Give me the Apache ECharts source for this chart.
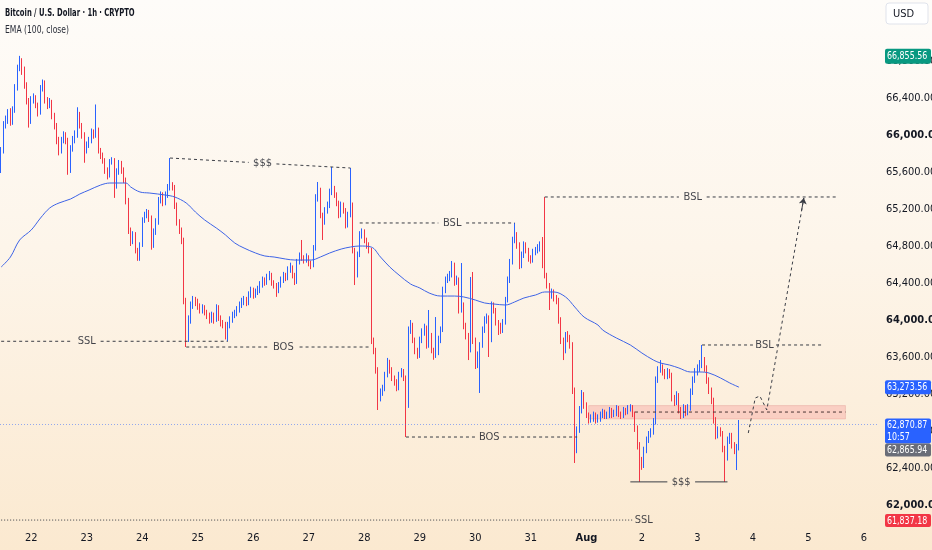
<!DOCTYPE html>
<html><head><meta charset="utf-8">
<script src="https://cdn.jsdelivr.net/npm/echarts/dist/echarts.min.js"></script>
<style>
html,body{margin:0;padding:0;width:932px;height:550px;overflow:hidden;background:linear-gradient(to bottom,#fefcf9 0%,#fdf5ea 45%,#fbe9d0 100%);}
#chart{width:932px;height:550px;}
</style></head><body><div id="chart"></div>
<script>
// ---- data (BTCUSD 1h) ----
const openPrices = [
65697,65837,66108,66162,66237,66140,66270,66508,66724,66789,
66702,66540,66378,66162,66378,66400,66324,66248,66508,66573,
66378,66324,66356,66216,66108,65946,65837,65946,66000,65946,
65621,65859,65946,66000,66216,66108,66000,65837,65892,65946,
66032,66000,66054,65837,65783,65729,65621,65567,65708,65729,
65459,65600,65697,65621,65513,65297,64973,64865,64919,64756,
64670,64811,65081,65135,65167,65102,64811,64951,65059,65297,
65351,65265,65351,65427,65459,65438,65243,65059,64973,64865,
64216,63892,64000,64162,64216,64194,64151,64108,64130,64086,
64054,64000,64054,64000,64130,64021,63967,63946,63838,63946,
64000,64054,64075,64108,64162,64194,64216,64194,64270,64324,
64270,64302,64324,64378,64432,64411,64465,64486,64400,64378,
64324,64378,64432,64486,64454,64540,64562,64486,64411,64627,
64692,64670,64648,64681,64616,64594,64778,65319,65405,65135,
65059,65189,65243,65383,65427,65351,65265,65135,65243,65189,
65027,65135,65243,64756,64486,64702,64919,64951,64865,64811,
64756,63784,63675,63459,63157,63221,63265,63405,63546,63459,
63373,63330,63265,63405,63438,63373,63081,63892,63946,63784,
63675,63621,63784,63870,63913,63730,63838,63675,63621,63730,
63784,63892,64324,64432,64454,64486,64594,64411,64432,64108,
64162,63946,63838,63675,64378,63784,63513,63621,63730,63892,
64000,64021,63784,64162,64108,63978,63946,63892,63978,64216,
64432,64627,64865,64919,64811,64594,64702,64811,64756,64670,
64648,64735,64756,64778,64811,64594,64486,64378,64270,64302,
64238,64216,64000,63784,63675,63838,63805,63730,63243,62703,
62811,63027,63189,63081,62973,62919,62940,62973,62919,62940,
62973,63005,62962,62973,63027,62973,62994,63049,62984,62962,
63027,63005,63049,63059,62984,62832,62649,62486,62432,62594,
62703,62767,62789,62897,63351,63459,63492,63438,63394,63438,
63405,63157,63113,63189,63027,62973,63049,63005,63049,63221,
63351,63438,63481,63513,63567,63481,63351,63243,63135,62919,
62757,62811,62778,62616,62508,62703,62746,62649,62594,62616];
const closePrices = [
65837,66108,66162,66237,66140,66270,66508,66724,66789,66702,
66540,66378,66162,66378,66400,66324,66248,66508,66573,66378,
66324,66356,66216,66108,65946,65837,65946,66000,65946,65621,
65859,65946,66000,66216,66108,66000,65837,65892,65946,66032,
66000,66054,65837,65783,65729,65621,65567,65708,65729,65459,
65600,65697,65621,65513,65297,64973,64865,64919,64756,64670,
64811,65081,65135,65167,65102,64811,64951,65059,65297,65351,
65265,65351,65427,65459,65438,65243,65059,64973,64865,64216,
63892,64000,64162,64216,64194,64151,64108,64130,64086,64054,
64000,64054,64000,64130,64021,63967,63946,63838,63946,64000,
64054,64075,64108,64162,64194,64216,64194,64270,64324,64270,
64302,64324,64378,64432,64411,64465,64486,64400,64378,64324,
64378,64432,64486,64454,64540,64562,64486,64411,64627,64692,
64670,64648,64681,64616,64594,64778,65319,65405,65135,65059,
65189,65243,65383,65427,65351,65265,65135,65243,65189,65027,
65135,65243,64756,64486,64702,64919,64951,64865,64811,64756,
63784,63675,63459,63157,63221,63265,63405,63546,63459,63373,
63330,63265,63405,63438,63373,63081,63892,63946,63784,63675,
63621,63784,63870,63913,63730,63838,63675,63621,63730,63784,
63892,64324,64432,64454,64486,64594,64411,64432,64108,64162,
63946,63838,63675,64378,63784,63513,63621,63730,63892,64000,
64021,63784,64162,64108,63978,63946,63892,63978,64216,64432,
64627,64865,64919,64811,64594,64702,64811,64756,64670,64648,
64735,64756,64778,64811,64594,64486,64378,64270,64302,64238,
64216,64000,63784,63675,63838,63805,63730,63243,62703,62811,
63027,63189,63081,62973,62919,62940,62973,62919,62940,62973,
63005,62962,62973,63027,62973,62994,63049,62984,62962,63027,
63005,63049,63059,62984,62832,62649,62486,62432,62594,62703,
62767,62789,62897,63351,63459,63492,63438,63394,63438,63405,
63157,63113,63189,63027,62973,63049,63005,63049,63221,63351,
63438,63481,63513,63567,63481,63351,63243,63135,62919,62757,
62811,62778,62616,62508,62703,62746,62649,62594,62616,62870.87];
const highPrices = [
65870,66150,66210,66280,66290,66310,66550,66760,66855.56,66830,
66740,66570,66400,66420,66450,66430,66350,66540,66600,66590,
66410,66400,66380,66240,66130,65980,65980,66040,66030,65970,
65890,65990,66050,66300,66250,66130,66030,65930,65980,66070,
66060,66330,66080,65860,65810,65750,65650,65740,65760,65750,
65640,65730,65720,65650,65540,65320,65000,64960,64950,64780,
64840,65110,65170,65200,65190,65130,64990,65100,65330,65390,
65380,65390,65470,65751,65490,65460,65270,65090,65000,64890,
64240,64050,64200,64260,64250,64230,64180,64170,64160,64110,
64080,64090,64080,64170,64160,64050,64000,63980,63980,64040,
64090,64110,64150,64200,64240,64260,64250,64310,64360,64350,
64340,64370,64420,64470,64460,64500,64530,64510,64430,64400,
64410,64470,64520,64510,64580,64620,64590,64510,64660,64730,
64865,64700,64720,64700,64640,64810,65360,65492,65430,65160,
65220,65280,65420,65654,65450,65380,65290,65280,65270,65210,
65170,65643,65270,64780,64740,64960,64990,64980,64890,64840,
64780,63810,63700,63490,63260,63300,63440,63590,63570,63490,
63400,63360,63440,63480,63470,63400,63930,64000,63970,63810,
63700,63820,63910,63960,63940,64108,63860,63700,64032,63830,
63930,64360,64470,64500,64530,64638,64620,64480,64460,64616,
64190,63970,63860,64465,64519,63810,63660,63760,63930,64040,
64070,64050,64200,64190,64130,64000,63970,64010,64250,64470,
64660,64900,65049,64950,64840,64740,64850,64840,64780,64700,
64770,64790,64820,64850,64897,65330,64510,64400,64340,64330,
64270,64240,64030,63810,63870,63880,63840,63760,63270,62850,
63070,63243,63220,63110,63000,62980,63010,63000,62980,63010,
63040,63030,63010,63060,63050,63030,63080,63070,63010,63060,
63050,63080,63090,63080,63010,62860,62680,62520,62630,62740,
62800,62830,62940,63390,63500,63567,63520,63470,63480,63470,
63430,63190,63230,63210,63060,63090,63080,63090,63260,63390,
63480,63520,63567,63730,63600,63510,63380,63270,63160,62950,
62850,62840,62800,62640,62740,62780,62780,62680,62660,62919];
const lowPrices = [
65589,65800,66070,66120,66100,66110,66240,66480,66690,66650,
66500,66330,66080,66120,66340,66290,66200,66220,66470,66340,
66280,66290,66170,66060,65900,65780,65800,65910,65900,65570,
65590,65820,65910,65970,66070,65960,65700,65800,65860,65910,
65960,65970,65800,65740,65690,65580,65520,65540,65680,65320,
65420,65570,65580,65480,65250,64930,64800,64820,64720,64640,
64640,64790,65050,65100,65060,64760,64780,64920,65030,65260,
65230,65240,65320,65400,65400,65200,65020,64930,64820,64170,
63708,63762,63960,64120,64150,64110,64070,64070,64050,64010,
63960,63970,63960,63980,63990,63930,63910,63790,63770,63910,
63970,64020,64040,64080,64130,64160,64150,64160,64240,64230,
64240,64270,64290,64350,64370,64380,64430,64370,64340,64250,
64290,64350,64400,64420,64430,64510,64450,64378,64390,64600,
64640,64610,64620,64580,64550,64570,64750,65280,65100,64865,
65030,65150,65210,65350,65320,65230,65100,65110,65150,64990,
65000,65110,64720,64378,64460,64680,64880,64830,64770,64720,
63740,63630,63420,63027,63120,63180,63230,63380,63420,63340,
63290,63230,63240,63380,63340,62735,63050,63850,63750,63630,
63580,63590,63750,63830,63690,63700,63640,63570,63590,63620,
63750,63870,64290,64400,64420,64460,64370,64380,64070,64080,
63900,63790,63567,63650,63740,63470,63480,63211,63700,63860,
63960,63600,63760,64070,63940,63838,63850,63860,63950,64190,
64400,64600,64830,64770,64550,64560,64670,64720,64630,64610,
64620,64700,64720,64740,64560,64450,64340,64108,64230,64200,
64170,63960,63740,63567,63640,63760,63690,63200,62454,62560,
62780,62990,63040,62940,62880,62890,62900,62880,62890,62900,
62940,62930,62930,62940,62940,62950,62960,62950,62930,62940,
62970,62980,63010,62950,62790,62600,62250,62380,62400,62560,
62670,62730,62760,62870,63320,63430,63400,63360,63360,63370,
63120,63070,63080,62990,62930,62940,62960,62970,63020,63190,
63320,63400,63440,63480,63440,63310,63200,63090,62880,62710,
62720,62740,62570,62250,62480,62660,62610,62550,62378,62590];

// EMA(100, close): bar index -> value
const emaBar = [0,4,8,13,17,21,25,30,34,38,43,47,51,54,56,60,64,71,75,80,84,88,93,97,101,105,110,114,118,123,127,134,138,142,147,151,155,160,164,168,172,177,181,185,190,196,200,205,209,213,218,222,226,231,235,239,244,248,252,258,260,266,272,277,282,285,289,293,298,302,306,311,315,319];
const emaValue = [64573,64681,64865,64973,65102,65211,65265,65308,65362,65405,65459,65481,65481,65481,65438,65384,65373,65351,65330,65265,65167,65081,64995,64919,64832,64778,64724,64692,64681,64659,64648,64648,64681,64724,64767,64789,64800,64789,64681,64573,64486,64389,64346,64292,64259,64259,64249,64216,64184,64173,64162,64195,64238,64270,64303,64303,64249,64140,64032,63946,63892,63805,63730,63643,63567,63535,63513,63481,63438,63438,63427,63373,63319,63273.56];

// time axis: hourly slots from Jul 21 11:00 to past Aug 6
const firstBarUTC = Date.UTC(2024, 6, 21, 11);
const slotCount = 380;
const monthNames = ['Jan','Feb','Mar','Apr','May','Jun','Jul','Aug','Sep','Oct','Nov','Dec'];
const categories = [];
for (let i = 0; i < slotCount; i++) {
  const d = new Date(firstBarUTC + i * 3600000);
  categories.push(monthNames[d.getUTCMonth()] + ' ' + d.getUTCDate() + ' ' + String(d.getUTCHours()).padStart(2, '0') + ':00');
}

// drawings: labels, bar index start/end, price start/end, label gap (bar indexes)
const drawLabels   = ['SSL', 'BOS', '$$$', 'BSL', 'BSL', 'BOS', '$$$', 'BSL'];
const drawStartBar = [0, 80, 73, 155, 235, 175, 272, 303];
const drawEndBar   = [98, 160, 151, 222, 362, 249, 314, 355];
const drawStartPx  = [63770, 63708, 65751, 65049, 65330, 62735, 62250, 63730];
const drawEndPx    = [63770, 63708, 65643, 65049, 65330, 62735, 62250, 63730];
const drawGapFrom  = [31, 115, 107, 189, 293, 205, 288, 325];
const drawGapTo    = [43, 129, 119, 201, 305, 217, 300, 335];
const drawSolid    = [false, false, false, false, false, false, true, false];
const lowerSSL = { label: 'SSL', fromBar: 0, toBar: 273, price: 61837.18 };
const zoneBars = [254, 365];
const zonePrices = [62930, 63075];
const zoneMid = 63005;
const zoneMidFrom = 274;
const projectionBars = [323, 326, 328, 331, 347];
const projectionPrices = [62778, 63157, 63178, 63027, 65319];

const lastPrice = 62870.87;
const lastCountdown = '10:57';
const highBadge = 66855.56;
const emaBadge = 63273.56;
const greyBadge = 62865.94;

// ---- chart ----
const FONT = "'DejaVu Sans Condensed','Liberation Sans Narrow','Roboto',sans-serif";
const INK = '#131722';
const DRAW = '#3a3d45';
const chart = echarts.init(document.getElementById('chart'), null, { renderer: 'canvas' });

const series = [];
series.push({
  type: 'candlestick',
  name: 'BTCUSD',
  data: openPrices.map((o, i) => [o, closePrices[i], lowPrices[i], highPrices[i]]),
  barWidth: '55%',
  itemStyle: { color: '#2962ff', color0: '#f23645', borderColor: '#2962ff', borderColor0: '#f23645', borderWidth: 1 },
  z: 3,
  markLine: {
    silent: true, symbol: 'none', animation: false,
    label: { show: false },
    lineStyle: { type: [1, 2], color: 'rgba(41,98,255,0.5)', width: 1 },
    data: [{ yAxis: lastPrice }]
  },
  markArea: {
    silent: true,
    itemStyle: { color: 'rgba(242,54,69,0.17)', borderColor: 'rgba(200,80,80,0.18)', borderWidth: 1 },
    data: [[{ coord: [zoneBars[0], zonePrices[1]] }, { coord: [zoneBars[1], zonePrices[0]] }]]
  }
});
series.push({
  type: 'line', name: 'EMA',
  data: emaBar.map((b, i) => [b, emaValue[i]]),
  smooth: 0.35, showSymbol: false, symbol: 'none',
  lineStyle: { color: '#3d63e6', width: 1 }, z: 4
});

function seg(points, style) {
  return { type: 'line', data: points, symbol: 'none', showSymbol: false, silent: true, lineStyle: style, z: 5, animation: false };
}
const labelPts = [];
drawLabels.forEach((txt, k) => {
  const a = drawStartBar[k], b = drawEndBar[k], pa = drawStartPx[k], pb = drawEndPx[k];
  const yAt = x => pa + (pb - pa) * (x - a) / (b - a);
  const style = { color: DRAW, width: 1, type: drawSolid[k] ? 'solid' : [3, 3] };
  series.push(seg([[a, pa], [drawGapFrom[k], yAt(drawGapFrom[k])]], style));
  series.push(seg([[drawGapTo[k], yAt(drawGapTo[k])], [b, pb]], style));
  const mid = Math.round((drawGapFrom[k] + drawGapTo[k]) / 2);
  labelPts.push({ value: [mid, yAt(mid)], label: { formatter: txt } });
});
// lower SSL (dotted) with label at its right end
series.push(seg([[lowerSSL.fromBar, lowerSSL.price], [lowerSSL.toBar, lowerSSL.price]], { color: DRAW, width: 1, type: [1, 2] }));
// zone middle dashed
series.push(seg([[zoneMidFrom, zoneMid], [zoneBars[1], zoneMid]], { color: '#4a3434', width: 1, type: [3, 3] }));
// projection path
series.push({
  type: 'line', data: projectionBars.map((b, i) => [b, projectionPrices[i]]),
  symbol: 'none', smooth: false, silent: true, z: 5,
  lineStyle: { color: DRAW, width: 1, type: [3, 3] },
  markLine: {
    silent: true, symbol: ['none', 'arrow'], symbolSize: 6, label: { show: false },
    lineStyle: { color: DRAW, width: 1, type: 'solid' },
    data: [[{ coord: [346, 65180] }, { coord: [347, projectionPrices[4]] }]]
  }
});
series.push({
  type: 'scatter', symbolSize: 0.1, silent: true, z: 6,
  itemStyle: { color: 'transparent' },
  label: { show: true, position: 'inside', color: INK, fontFamily: FONT, fontSize: 11 },
  data: labelPts.concat([{ value: [lowerSSL.toBar, lowerSSL.price], label: { formatter: lowerSSL.label, position: 'right', distance: 2 } }])
});

const option = {
  animation: false,
  backgroundColor: 'transparent',
  grid: { left: 0, right: 53, top: -13, bottom: 8, containLabel: false, outerBoundsMode: 'none' },
  xAxis: {
    type: 'category', data: categories, boundaryGap: true,
    axisLine: { show: false }, axisTick: { show: false }, splitLine: { show: false },
    axisLabel: {
      margin: -9, color: INK, fontFamily: FONT, fontSize: 11,
      interval: (idx, val) => val.endsWith(' 00:00'),
      formatter: val => { const p = val.split(' '); return p[1] === '1' ? '{m|' + p[0] + '}' : p[1]; },
      rich: { m: { fontWeight: 'bold', color: INK, fontFamily: FONT, fontSize: 11 } }
    }
  },
  yAxis: {
    type: 'value', position: 'right', min: 61600, max: 67600, interval: 400, scale: true,
    axisLine: { show: false }, axisTick: { show: false }, splitLine: { show: false },
    axisLabel: {
      margin: 7, color: INK, fontFamily: FONT, fontSize: 11, align: 'left',
      formatter: v => {
        if (v < 61700 || v > 67100) return '';
        const s = v.toLocaleString('en-US', { minimumFractionDigits: 2, maximumFractionDigits: 2 });
        return v % 2000 === 0 ? '{b|' + s + '}' : s;
      },
      rich: { b: { fontWeight: 'bold', color: INK, fontFamily: FONT, fontSize: 11 } }
    }
  },
  series: series
};
chart.setOption(option);

// ---- price badges on the scale, placed through the axis ----
const yPx = v => chart.convertToPixel({ yAxisIndex: 0 }, v);
const BX = 885, BW = 46;
const fmt = v => v.toLocaleString('en-US', { minimumFractionDigits: 2, maximumFractionDigits: 2 });
const g = [];
function badge(top, h, bg, lines) {
  g.push({ type: 'rect', shape: { x: BX, y: top, width: BW, height: h, r: 2 }, style: { fill: bg }, z: 100 });
  lines.forEach((ln, i) => g.push({
    type: 'text', x: BX + 2, y: top + 7 + i * 12, scaleX: 0.8, z: 101,
    style: { text: ln, fill: '#ffffff', font: '11px ' + FONT, verticalAlign: 'middle' }
  }));
}
badge(yPx(highBadge) - 7, 15, '#089981', [fmt(highBadge)]);
badge(yPx(emaBadge) - 7, 14, '#2962ff', [fmt(emaBadge)]);
const lp = yPx(lastPrice);
badge(lp - 6, 25, '#2962ff', [fmt(lastPrice), lastCountdown]);
badge(lp + 19, 13, '#6a6d78', [fmt(greyBadge)]);
badge(yPx(lowerSSL.price) - 6, 13, '#f23645', [fmt(lowerSSL.price)]);
// currency box
g.push({ type: 'rect', shape: { x: 886, y: 3, width: 42, height: 21, r: 3 }, style: { fill: '#ffffff', stroke: '#e0e3eb', lineWidth: 1 }, z: 100 });
g.push({ type: 'text', x: 893, y: 14, z: 101, style: { text: 'USD', fill: INK, font: '11px ' + FONT, verticalAlign: 'middle' } });
// legend texts
g.push({ type: 'text', x: 5, y: 13, scaleX: 0.69, z: 101, style: { text: 'Bitcoin / U.S. Dollar · 1h · CRYPTO', fill: INK, font: 'bold 11px ' + FONT, verticalAlign: 'middle' } });
g.push({ type: 'text', x: 5, y: 30, scaleX: 0.77, z: 101, style: { text: 'EMA (100, close)', fill: '#2a2e39', font: '11px ' + FONT, verticalAlign: 'middle' } });
chart.setOption({ graphic: g });
</script>
</body></html>
